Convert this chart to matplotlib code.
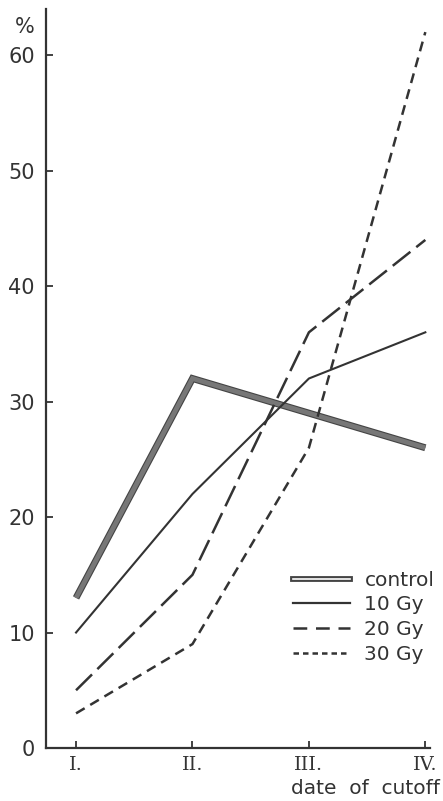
import matplotlib
matplotlib.use("Agg")
import matplotlib.pyplot as plt
import matplotlib.patheffects as pe
from matplotlib.lines import Line2D

dates = ["I.", "II.", "III.", "IV."]
control = [13, 32, 29, 26]
gy10 = [10, 22, 32, 36]
gy20 = [5, 15, 36, 44]
gy30 = [3, 9, 26, 62]
yticks = [0, 10, 20, 30, 40, 50, 60]

ink = "#333333"
x = list(range(1, len(dates) + 1))

fig = plt.figure(figsize=(4.43, 8.01), dpi=100)
ax = fig.add_axes([46/443, 53/801, 384/443, 739/801])

ax.plot(x, control, color="#777777", lw=3.4, solid_capstyle="butt", solid_joinstyle="miter",
        path_effects=[pe.Stroke(linewidth=5.0, foreground="#444444"), pe.Normal()])
ax.plot(x, gy10, color=ink, lw=1.5)
ax.plot(x, gy20, color=ink, lw=1.8, dashes=(9, 3))
ax.plot(x, gy30, color=ink, lw=1.8, dashes=(4, 2.6))

ax.set_xlim(0.742, 4.04)
ax.set_ylim(0, 64)
ax.set_xticks(x)
ax.set_xticklabels(dates, fontfamily="DejaVu Serif", fontsize=14, color=ink)
ax.set_yticks(yticks)
ax.set_yticklabels([str(v) for v in yticks], fontsize=15, color=ink)
ax.tick_params(axis="y", direction="in", length=5, width=1.3, color=ink, pad=8)
ax.tick_params(axis="x", direction="in", length=5, width=1.3, color=ink, pad=6)
for s in ["top", "right"]:
    ax.spines[s].set_visible(False)
for s in ["left", "bottom"]:
    ax.spines[s].set_linewidth(1.6)
    ax.spines[s].set_color(ink)

ax.text(-0.055, 0.975, "%", transform=ax.transAxes, ha="center", va="center",
        fontsize=15, color=ink)
fig.text(440/443, 1 - 788/801, "date  of  cutoff", ha="right", va="center",
         fontsize=14.5, color=ink)

handles = [
    Line2D([], [], color="white", lw=1.2,
           path_effects=[pe.Stroke(linewidth=4.2, foreground="#444444"), pe.Normal()]),
    Line2D([], [], color=ink, lw=1.6),
    Line2D([], [], color=ink, lw=1.8, dashes=(5.5, 3.5)),
    Line2D([], [], color=ink, lw=1.8, dashes=(2.2, 1.6)),
]
labels = ["control", "10 Gy", "20 Gy", "30 Gy"]
ax.legend(handles, labels, loc="upper left", bbox_to_anchor=(0.643, 0.24),
          frameon=False, fontsize=14.5, handlelength=2.85, handletextpad=0.7,
          labelspacing=0.28, borderpad=0, borderaxespad=0, labelcolor=ink)

fig.savefig("out.png", dpi=100)
